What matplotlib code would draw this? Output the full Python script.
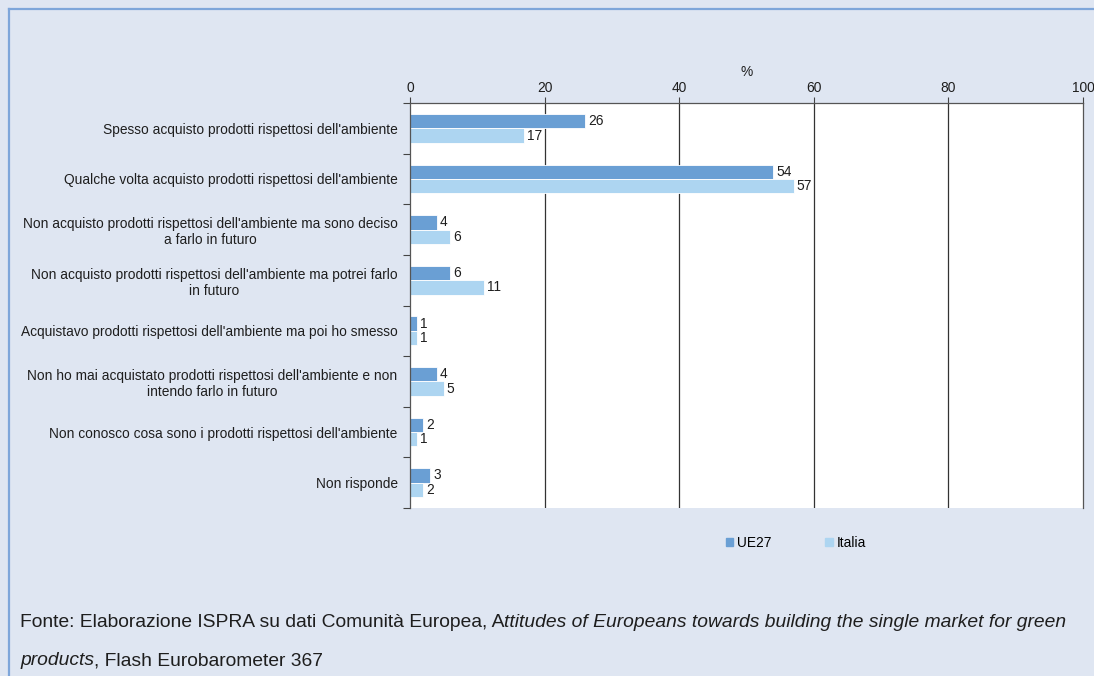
import matplotlib
matplotlib.use("Agg")
import matplotlib.pyplot as plt
from matplotlib.lines import Line2D
from matplotlib.patches import Patch
from matplotlib.ticker import FixedLocator
import numpy as np

plt.rcParams["font.family"] = ["Liberation Sans", "DejaVu Sans"]

CATEGORIES = [
    "Spesso acquisto prodotti rispettosi dell'ambiente",
    "Qualche volta acquisto prodotti rispettosi dell'ambiente",
    "Non acquisto prodotti rispettosi dell'ambiente ma sono deciso\na farlo in futuro",
    "Non acquisto prodotti rispettosi dell'ambiente ma potrei farlo\nin futuro",
    "Acquistavo prodotti rispettosi dell'ambiente ma poi ho smesso",
    "Non ho mai acquistato prodotti rispettosi dell'ambiente e non\nintendo farlo in futuro",
    "Non conosco cosa sono i prodotti rispettosi dell'ambiente",
    "Non risponde",
]
UE27 = [26, 54, 4, 6, 1, 4, 2, 3]
ITALIA = [17, 57, 6, 11, 1, 5, 1, 2]
SERIES = ["UE27", "Italia"]
X_TICKS = [0, 20, 40, 60, 80, 100]

BG = "#dfe6f2"
C_UE = "#6a9fd4"
C_IT = "#add5f1"
BORDER = "#7ea6da"
INK = "#1e1e1e"
FS = 9.9

fig = plt.figure(figsize=(10.94, 6.76), dpi=100, facecolor=BG)
W, H = 1094, 676

# frame lines along top and left edge
fig.add_artist(Line2D([9 / W, 1], [1 - 9 / H, 1 - 9 / H], color=BORDER, lw=1.6,
                      transform=fig.transFigure))
fig.add_artist(Line2D([9 / W, 9 / W], [0, 1 - 9 / H], color=BORDER, lw=1.6,
                      transform=fig.transFigure))

ax = fig.add_axes([410 / W, 1 - 508 / H, 673 / W, 405 / H])
ax.set_facecolor("white")

y = np.arange(len(CATEGORIES))
h = 0.285
b1 = ax.barh(y - h / 2, UE27, height=h, color=C_UE, edgecolor="white", lw=0.6)
b2 = ax.barh(y + h / 2, ITALIA, height=h, color=C_IT, edgecolor="white", lw=0.6)
for bars, vals in ((b1, UE27), (b2, ITALIA)):
    for b, v in zip(bars, vals):
        ax.text(v + 0.45, b.get_y() + b.get_height() / 2, f"{v}",
                va="center", ha="left", fontsize=FS, color=INK)

ax.set_xlim(0, 100)
ax.set_ylim(len(CATEGORIES) - 0.5, -0.5)

ax.xaxis.tick_top()
ax.xaxis.set_label_position("top")
ax.set_xticks(X_TICKS)
ax.set_xticklabels([str(t) for t in X_TICKS], fontsize=FS, color=INK)
ax.tick_params(axis="x", length=4, width=0.8, color="#444444", pad=2)
ax.set_xlabel("%", fontsize=FS, color=INK, labelpad=3)

ax.set_yticks(y)
ax.set_yticklabels(CATEGORIES, fontsize=FS, color=INK,
                   multialignment="center")
ax.tick_params(axis="y", which="major", length=0, pad=9)
ax.yaxis.set_minor_locator(FixedLocator(np.arange(-0.5, len(CATEGORIES), 1.0)))
ax.tick_params(axis="y", which="minor", length=5, width=0.8, color="#444444")

for v in X_TICKS[1:-1]:
    ax.axvline(v, color="#333333", lw=0.9, zorder=0.5)

for side in ("top", "left", "right"):
    ax.spines[side].set_color("#555555")
    ax.spines[side].set_linewidth(0.9)
ax.spines["bottom"].set_visible(False)

handles = [Patch(color=C_UE), Patch(color=C_IT)]
fig.legend(handles, SERIES, loc="center", bbox_to_anchor=(796 / W, 1 - 543 / H),
           ncol=2, frameon=False, fontsize=FS, handlelength=0.55,
           handleheight=0.55, handletextpad=0.3, columnspacing=3.9)

# source note with mixed upright / italic runs
FOOT_FS = 13.9
lines = [
    [("Fonte: Elaborazione ISPRA su dati Comunità Europea, A", "normal"),
     ("ttitudes of Europeans towards building the single market for green", "italic")],
    [("products", "italic"), (", Flash Eurobarometer 367", "normal")],
]
renderer = fig.canvas.get_renderer()
for i, runs in enumerate(lines):
    x = 20 / W
    yy = 1 - (627 + i * 38) / H
    for txt, style in runs:
        t = fig.text(x, yy, txt, fontsize=FOOT_FS, style=style,
                     color=INK, ha="left", va="baseline")
        bb = t.get_window_extent(renderer)
        x += bb.width / W

fig.savefig("out.png", dpi=100, facecolor=BG)
